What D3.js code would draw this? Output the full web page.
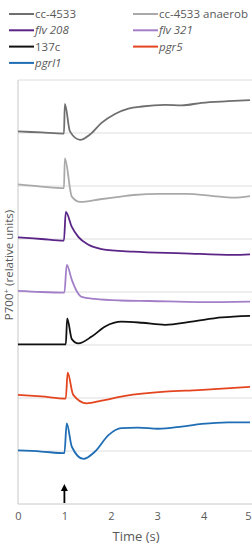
<!DOCTYPE html>
<html>
<head>
<meta charset="utf-8">
<script src="https://cdn.jsdelivr.net/npm/d3@7"></script>
<style>
  body { margin: 0; background: #fff; }
  text { font-family: "Open Sans", sans-serif; fill: #595959; }
</style>
</head>
<body>
<svg id="chart" width="252" height="545"></svg>
<script>
// Series names + colours (legend order)
var names = ["cc-4533", "cc-4533 anaerob", "flv 208", "flv 321", "137c", "pgr5", "pgrl1"];
var italic = [false, false, true, true, false, true, true];
var colors = ["#6f6f6f", "#a9a9a9", "#5b2587", "#a37fc8", "#111111", "#e4451f", "#1f6db5"];

var xTicks = [0, 1, 2, 3, 4, 5];

// traces: [time (s), P700+ in stacked relative units]
var cc4533 = [[0, 7.03], [0.5, 7.01], [0.99, 6.99], [1.01, 7.55], [1.12, 7.03], [1.34, 6.87], [1.55, 6.97],
  [1.80, 7.19], [2.09, 7.36], [2.38, 7.46], [2.67, 7.50], [3.17, 7.53], [3.53, 7.52], [3.96, 7.57], [4.53, 7.60], [5, 7.62]];
var ccAnaerob = [[0, 6.03], [0.5, 5.99], [0.99, 5.96], [1.01, 6.52], [1.16, 5.80], [1.34, 5.70], [1.77, 5.75],
  [2.13, 5.79], [2.49, 5.83], [3.06, 5.85], [3.63, 5.85], [4.21, 5.81], [4.64, 5.78], [5, 5.81]];
var flv208 = [[0, 5.03], [0.5, 5.00], [0.99, 4.97], [1.03, 5.51], [1.16, 5.23], [1.30, 5.04], [1.52, 4.89],
  [1.80, 4.81], [2.49, 4.76], [3.56, 4.73], [4.64, 4.70], [5, 4.71]];
var flv321 = [[0, 4.02], [0.5, 4.00], [1.0, 3.99], [1.05, 4.51], [1.16, 4.23], [1.27, 4.01], [1.37, 3.91],
  [1.66, 3.87], [2.2, 3.84], [2.84, 3.83], [3.92, 3.81], [5, 3.82]];
var c137 = [[0, 3.01], [0.5, 3.01], [1.03, 3.01], [1.06, 3.50], [1.16, 3.11], [1.30, 3.03], [1.59, 3.16],
  [1.88, 3.35], [2.23, 3.44], [2.67, 3.42], [3.17, 3.38], [3.74, 3.44], [4.39, 3.52], [5, 3.55]];
var pgr5 = [[0, 2.06], [0.5, 2.03], [1.03, 1.99], [1.07, 2.48], [1.19, 2.06], [1.48, 1.90], [1.80, 1.95],
  [2.31, 2.04], [3.17, 2.12], [3.89, 2.15], [5, 2.21]];
var pgrl1 = [[0, 1.01], [0.5, 0.99], [1.0, 0.96], [1.05, 1.52], [1.16, 1.08], [1.41, 0.85], [1.66, 0.99],
  [1.95, 1.30], [2.23, 1.43], [2.59, 1.44], [3.02, 1.42], [3.53, 1.46], [3.96, 1.51], [4.53, 1.54], [5, 1.54]];

var series = [cc4533, ccAnaerob, flv208, flv321, c137, pgr5, pgrl1];

var margin = { top: 80, left: 18 };
var width = 232, height = 424;

var svg = d3.select("#chart");

var xScale = d3.scaleLinear().domain([0, 5]).range([0, width]);
var yScale = d3.scaleLinear().domain([0, 8]).range([height, 0]);

var g = svg.append("g")
  .attr("transform", "translate(" + margin.left + "," + margin.top + ")");

// gridlines
g.append("g")
  .selectAll("line")
  .data(d3.range(1, 9))
  .enter().append("line")
  .attr("x1", 0).attr("x2", width + 10)
  .attr("y1", d => yScale(d)).attr("y2", d => yScale(d))
  .attr("stroke", "#dedede").attr("stroke-width", 1);

// y axis line (no labels)
g.append("line")
  .attr("x1", 0).attr("x2", 0)
  .attr("y1", 0).attr("y2", height)
  .attr("stroke", "#c8c8c8");

// x axis
var xAxis = g.append("g")
  .attr("transform", "translate(0," + height + ")")
  .call(d3.axisBottom(xScale).tickValues(xTicks).tickFormat(d3.format("d")).tickSize(0).tickPadding(8));
xAxis.select(".domain").attr("stroke", "#c8c8c8").attr("d", "M0,0H" + (width + 10));
xAxis.selectAll("text")
  .style("font-family", "'Open Sans', sans-serif")
  .style("font-size", "11px")
  .style("fill", "#595959")
  .attr("dx", d => d === 5 ? -2 : 0);

// traces
var line = d3.line()
  .x(d => xScale(d[0]))
  .y(d => yScale(d[1]))
  .curve(d3.curveMonotoneX);

g.selectAll(".trace")
  .data(series)
  .enter().append("path")
  .attr("class", "trace")
  .attr("fill", "none")
  .attr("stroke", (d, i) => colors[i])
  .attr("stroke-width", 1.8)
  .attr("d", line);

// light-on arrow at t = 1
var ax = xScale(1);
g.append("line")
  .attr("x1", ax).attr("x2", ax)
  .attr("y1", height - 1).attr("y2", height - 15)
  .attr("stroke", "#000").attr("stroke-width", 1.8);
g.append("path")
  .attr("d", "M" + (ax - 3.5) + "," + (height - 13) + "L" + ax + "," + (height - 20) + "L" + (ax + 3.5) + "," + (height - 13) + "Z")
  .attr("fill", "#000");

// axis titles
svg.append("text")
  .attr("x", 136).attr("y", 541)
  .attr("text-anchor", "middle")
  .style("font-size", "13px")
  .text("Time (s)");

var yl = svg.append("text")
  .attr("transform", "translate(13,265) rotate(-90)")
  .attr("text-anchor", "middle")
  .style("font-size", "11.5px");
yl.append("tspan").text("P700");
yl.append("tspan").attr("dy", -4).style("font-size", "8px").text("+");
yl.append("tspan").attr("dy", 4).text(" (relative units)");

// legend
var legend = svg.append("g");
var items = legend.selectAll("g")
  .data(names)
  .enter().append("g")
  .attr("transform", (d, i) => "translate(" + (i % 2 ? 133 : 9) + "," + (14 + Math.floor(i / 2) * 16.3) + ")");
items.append("line")
  .attr("x1", 0).attr("x2", 25)
  .attr("stroke", (d, i) => colors[i])
  .attr("stroke-width", 2);
items.append("text")
  .attr("x", 26).attr("y", 4)
  .style("font-size", "11.5px")
  .style("font-style", (d, i) => italic[i] ? "italic" : "normal")
  .text(d => d);
</script>
</body>
</html>
